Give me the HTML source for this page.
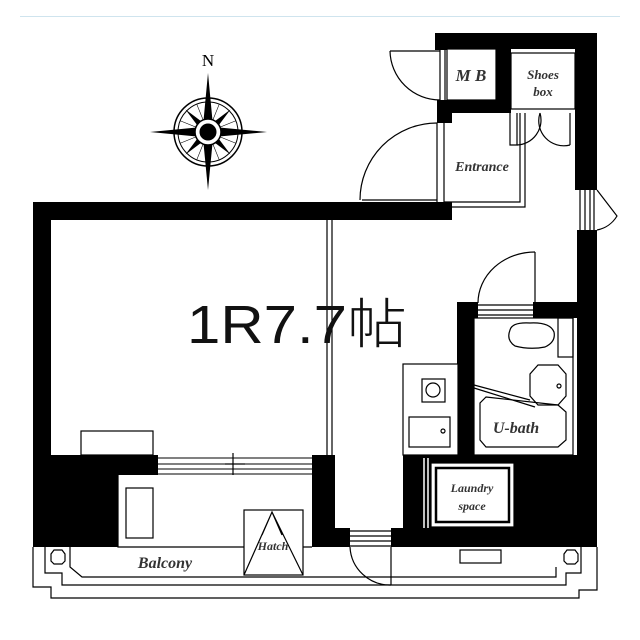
<!DOCTYPE html>
<html><head><meta charset="utf-8"><style>
html,body{margin:0;padding:0;background:#fff}
svg{display:block}
.it{font-family:"Liberation Serif",serif;font-style:italic;font-weight:bold;fill:#333}
</style></head><body>
<svg width="640" height="640" viewBox="0 0 640 640" xmlns="http://www.w3.org/2000/svg">
<rect width="640" height="640" fill="#fff"/>
<line x1="20" y1="16.5" x2="620" y2="16.5" stroke="#cfe4ee" stroke-width="1"/>

<g transform="translate(208,132)" stroke="#000" fill="none">
<text x="0" y="-66" text-anchor="middle" font-family="Liberation Serif,serif" font-size="17" fill="#000" stroke="none">N</text>
<circle r="34" stroke-width="1.5"/><circle r="30" stroke-width="1"/>
<g stroke-width="0.6">
<line x1="0" y1="-30" x2="0" y2="30" transform="rotate(22)"/><line x1="0" y1="-30" x2="0" y2="30" transform="rotate(-22)"/>
<line x1="0" y1="-30" x2="0" y2="30" transform="rotate(68)"/><line x1="0" y1="-30" x2="0" y2="30" transform="rotate(-68)"/>
</g>
<g fill="#000" stroke="none">
<polygon points="0,-59 5,-6 0,0 -5,-6"/><polygon points="0,58 5,6 0,0 -5,6"/>
<polygon points="-58,0 -6,-5 0,0 -6,5"/><polygon points="59,0 6,-5 0,0 6,5"/>
<g transform="rotate(45)"><polygon points="0,-32 4,-4 -4,-4"/><polygon points="0,32 4,4 -4,4"/><polygon points="-32,0 -4,4 -4,-4"/><polygon points="32,0 4,4 4,-4"/></g>
</g>
<circle r="13" fill="#fff" stroke-width="1.5"/><circle r="8" fill="#000"/>
</g>

<g fill="#000">
<rect x="435" y="33" width="162" height="16"/>
<rect x="435" y="33" width="12" height="17"/>
<rect x="496" y="33" width="15" height="80"/>
<rect x="437" y="100" width="74" height="13"/>
<rect x="437" y="100" width="15" height="23"/>
<rect x="575" y="33" width="22" height="157"/>
<rect x="577" y="230" width="20" height="317"/>
<rect x="33" y="202" width="419" height="18"/>
<rect x="33" y="202" width="18" height="345"/>
<rect x="33" y="455" width="85" height="92"/>
<rect x="51" y="455" width="107" height="20"/>
<rect x="312" y="455" width="23" height="92"/>
<rect x="335" y="528" width="15" height="19"/>
<rect x="391" y="528" width="206" height="19"/>
<rect x="457" y="302" width="21" height="155"/>
<rect x="533" y="302" width="44" height="16"/>
<rect x="403" y="455" width="194" height="73"/>
</g>
<g fill="#fff" stroke="#000" stroke-width="1.2">
<rect x="447" y="49" width="49" height="51"/>
<rect x="511" y="53" width="64" height="56"/>
<rect x="431" y="463" width="83" height="64"/>
<rect x="436" y="468" width="73" height="54" fill="none" stroke-width="2.5"/>
<rect x="474" y="318" width="99" height="137"/>
</g>
<g stroke="#fff" stroke-width="1.5"><line x1="424" y1="458" x2="424" y2="528"/><line x1="428" y1="458" x2="428" y2="528"/></g>

<g stroke="#000" stroke-width="1.2" fill="none">
<line x1="437" y1="123" x2="437" y2="202"/><line x1="444" y1="123" x2="444" y2="202"/>
<polyline points="444,202 520,202 520,113"/><polyline points="444,207 525,207 525,113"/>
<line x1="440" y1="49" x2="440" y2="100"/><line x1="445" y1="49" x2="445" y2="100"/>
<line x1="390" y1="51" x2="440" y2="51"/><path d="M390,51 A50,50 0 0 0 440,100"/>
<line x1="362" y1="200" x2="437" y2="200"/><path d="M437,123 A77,77 0 0 0 360,200"/>
<path d="M510,113 L510,145 L517,145 L517,113"/><path d="M517,145 A25,25 0 0 0 540,113"/><path d="M540,113 A25,25 0 0 0 570,145"/><line x1="570" y1="113" x2="570" y2="145"/>
<line x1="580" y1="190" x2="580" y2="230"/><line x1="585" y1="190" x2="585" y2="230"/><line x1="590" y1="190" x2="590" y2="230"/><line x1="594" y1="190" x2="594" y2="230"/>
<path d="M597,190 L617,216 A30,30 0 0 1 597,230"/>
<line x1="535" y1="252" x2="535" y2="303"/><path d="M535,252 A57,51 0 0 0 478,303"/>
<line x1="478" y1="305" x2="533" y2="305"/><line x1="478" y1="310" x2="533" y2="310"/><line x1="478" y1="315" x2="533" y2="315"/>
<line x1="327" y1="220" x2="327" y2="455"/><line x1="332" y1="220" x2="332" y2="455"/>
<rect x="81" y="431" width="72" height="24"/>
<g stroke-width="1"><line x1="158" y1="458" x2="312" y2="458"/><line x1="158" y1="464" x2="312" y2="464"/><line x1="158" y1="469" x2="312" y2="469"/><line x1="158" y1="474" x2="312" y2="474"/></g>
<line x1="233" y1="453" x2="233" y2="477"/><line x1="225" y1="464" x2="245" y2="464"/>
<rect x="403" y="364" width="55" height="91" fill="#fff"/>
<rect x="422" y="379" width="23" height="23"/><circle cx="433" cy="390" r="7"/>
<rect x="409" y="417" width="41" height="30"/><circle cx="443" cy="431" r="2"/>
<path d="M510,330 Q512,322 530,323 Q550,322 554,332 Q556,342 545,347 Q530,350 515,346 Q506,340 510,330Z"/>
<rect x="558" y="318" width="15" height="39"/>
<polygon points="538,365 558,365 566,374 566,396 558,405 538,405 530,396 530,374"/>
<circle cx="559" cy="386" r="2"/>
<path d="M474,388 L535,407"/><path d="M474,385 L530,400"/>
<path d="M486,397 L558,405 L566,412 L566,440 L558,447 L486,447 L480,440 L480,403Z"/>
<polyline points="33,547 33,587 51,587 51,598 579,598 579,590 597,590 597,547"/>
<polyline points="45,547 45,573 62,573 62,585 566,585 566,573 581,573 581,547"/>
<polyline points="70,547 70,567 82,577 556,577 556,567"/>
<polygon points="54,550 62,550 65,554 65,561 62,564 54,564 51,561 51,554"/>
<polygon points="567,550 575,550 578,554 578,561 575,564 567,564 564,561 564,554"/>
<rect x="118" y="475" width="194" height="72" fill="#fff" stroke="none"/>
<polyline points="118,475 118,547 312,547"/>
<rect x="126" y="488" width="27" height="50"/>
<rect x="244" y="510" width="59" height="65" fill="#fff"/>
<path d="M244,575 L272,512 L303,575 M262,535 L272,512 L282,535"/>
<rect x="460" y="550" width="41" height="13"/>
<line x1="350" y1="531" x2="391" y2="531"/><line x1="350" y1="536" x2="391" y2="536"/><line x1="350" y1="541" x2="391" y2="541"/><line x1="350" y1="546" x2="391" y2="546"/>
<line x1="391" y1="547" x2="391" y2="585"/><path d="M350,547 A40,40 0 0 0 391,585"/>
</g>

<text x="187" y="343" textLength="220" lengthAdjust="spacingAndGlyphs" font-family="Liberation Sans,'Noto Sans CJK JP',sans-serif" font-size="54" font-weight="300" fill="#111">1R7.7帖</text>
<text x="471" y="81" class="it" font-size="17" text-anchor="middle">M B</text>
<text x="543" y="79" class="it" font-size="13" text-anchor="middle">Shoes</text>
<text x="543" y="96" class="it" font-size="13" text-anchor="middle">box</text>
<text x="482" y="171" class="it" font-size="14" text-anchor="middle">Entrance</text>
<text x="516" y="433" class="it" font-size="16" text-anchor="middle">U-bath</text>
<text x="472" y="492" class="it" font-size="12" text-anchor="middle">Laundry</text>
<text x="472" y="510" class="it" font-size="12" text-anchor="middle">space</text>
<text x="165" y="568" class="it" font-size="16" text-anchor="middle">Balcony</text>
<text x="273" y="550" class="it" font-size="12" text-anchor="middle">Hatch</text>
</svg>
</body></html>
